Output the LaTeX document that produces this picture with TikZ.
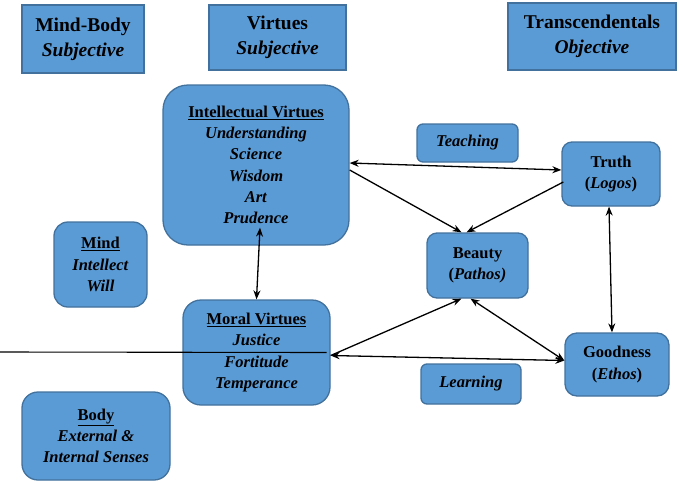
\documentclass[tikz,border=0pt]{standalone}
\usepackage{fontspec}
\setmainfont{LiberationSerif}[Extension=.ttf,UprightFont=*-Regular,BoldFont=*-Bold,
  ItalicFont=*-Italic,BoldItalicFont=*-BoldItalic]
\usetikzlibrary{arrows.meta}
\definecolor{boxfill}{HTML}{5B9BD5}
\definecolor{boxline}{HTML}{41719C}
\newcommand{\hd}[1]{\underline{\textbf{#1}}}

\begin{document}
\begin{tikzpicture}[x=1pt,y=-1pt,>={Stealth[length=9pt,width=7pt]},
  sqbox/.style={draw=boxline,line width=1.3pt,fill=boxfill,align=center,inner sep=0pt,
    font=\fontsize{19.5}{25}\selectfont\bfseries},
  rbox/.style={draw=boxline,line width=1.3pt,fill=boxfill,align=center,inner sep=0pt,
    font=\fontsize{16.5}{21.3}\selectfont\bfseries},
  link/.style={line width=1.3pt}]
\useasboundingbox (0,0) rectangle (685,482);
\node[sqbox,minimum width=122pt,minimum height=68pt] (mindbody) at (83,39) {Mind-Body\\\textit{Subjective}};
\node[sqbox,minimum width=137pt,minimum height=65pt] (virtues) at (277.5,37.5) {Virtues\\\textit{Subjective}};
\node[sqbox,minimum width=168pt,minimum height=67pt] (transc) at (592,36.5) {Transcendentals\\\textit{Objective}};
\node[rbox,rounded corners=25pt,minimum width=186pt,minimum height=160pt] (intel) at (256,165)
  {\hd{Intellectual Virtues}\\\textit{Understanding}\\\textit{Science}\\\textit{Wisdom}\\\textit{Art}\\\textit{Prudence}};
\node[rbox,rounded corners=6pt,minimum width=101pt,minimum height=38pt] (teaching) at (467.5,143) {\textit{Teaching}};
\node[rbox,rounded corners=10pt,minimum width=98pt,minimum height=64pt] (truth) at (611,174) {Truth\\(\textit{Logos})};
\node[rbox,rounded corners=10pt,minimum width=101pt,minimum height=65pt] (beauty) at (477.5,265.5) {Beauty\\(\textit{Pathos)}};
\node[rbox,rounded corners=14pt,minimum width=93pt,minimum height=85pt] (mind) at (100.5,264.5) {\hd{Mind}\\\textit{Intellect}\\\textit{Will}};
\node[rbox,rounded corners=18pt,minimum width=147pt,minimum height=105pt] (moral) at (256.5,352.5)
  {\hd{Moral Virtues}\\\textit{Justice}\\\textit{Fortitude}\\\textit{Temperance}};
\node[rbox,rounded corners=12pt,minimum width=104pt,minimum height=63pt] (goodness) at (617,364.5) {Goodness\\(\textit{Ethos})};
\node[rbox,rounded corners=6pt,minimum width=100pt,minimum height=40pt] (learning) at (471,384) {\textit{Learning}};
\node[rbox,rounded corners=16pt,minimum width=148pt,minimum height=88pt] (body) at (96,436) {\hd{Body}\\\textit{External \&}\\\textit{Internal Senses}};
\coordinate (stray) at (0,352);
\draw[line width=1.1pt] (stray) -- ([xshift=-4pt]moral.east);
\draw[link,<->] ([yshift=2pt]intel.east) -- ([yshift=4pt]truth.west);
\draw[link,->] ([yshift=-5pt]intel.east) -- ([xshift=-16pt]beauty.north);
\draw[link,->] ([yshift=-8pt,xshift=2pt]truth.west) -- ([xshift=-11pt]beauty.north);
\draw[link,<->] ([xshift=-2pt]truth.south) -- ([xshift=-5pt]goodness.north);
\draw[link,<->] ([xshift=4pt,yshift=18pt]intel.south) -- (moral.north);
\draw[link,->] ([yshift=-3pt]moral.east) -- ([xshift=-16pt]beauty.south);
\draw[link,<->] ([yshift=-3pt]moral.east) -- ([yshift=4pt]goodness.west);
\draw[link,<->] ([xshift=-7pt]beauty.south) -- ([yshift=4pt]goodness.west);
\end{tikzpicture}
\end{document}
